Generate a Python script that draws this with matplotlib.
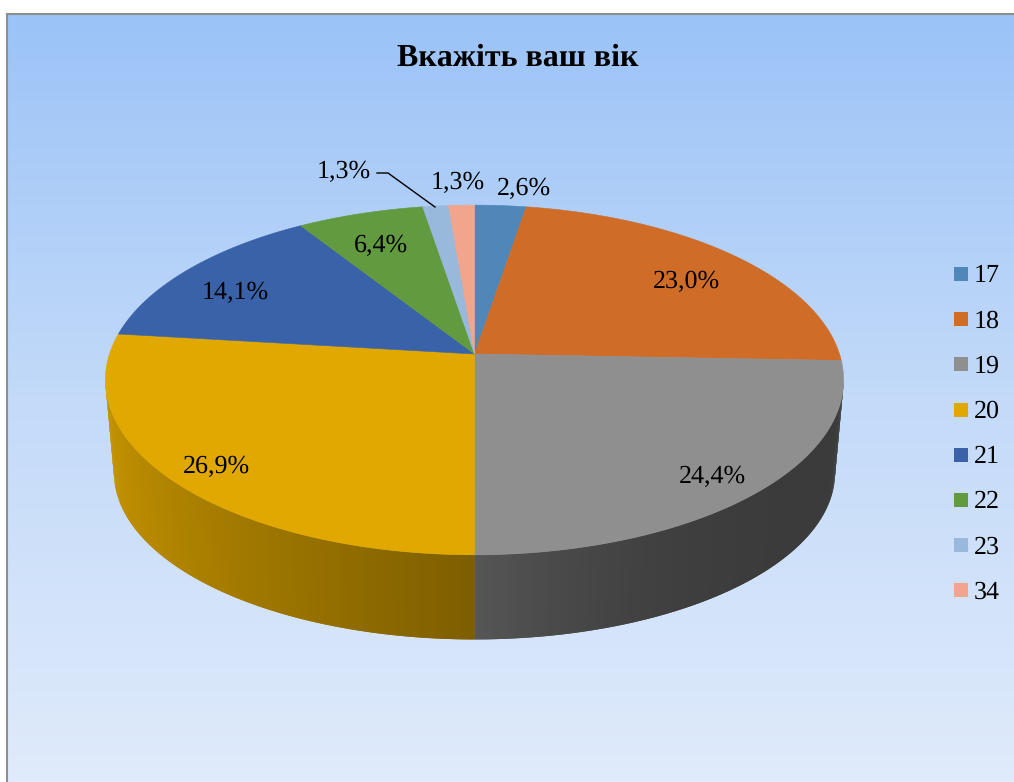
"""3D pie, age of respondents."""
import numpy as np
import matplotlib
matplotlib.use("Agg")
import matplotlib.pyplot as plt
from matplotlib.colors import to_rgb, LinearSegmentedColormap

plt.rcParams["font.family"] = ["Liberation Serif", "DejaVu Serif"]
plt.rcParams["text.hinting"] = "none"
plt.rcParams["text.hinting_factor"] = 1

TITLE = "Вкажіть ваш вік"
ages = ["17", "18", "19", "20", "21", "22", "23", "34"]
shares = [2.6, 23.0, 24.4, 26.9, 14.1, 6.4, 1.3, 1.3]
colors = ["#4e87b8", "#cf6c28", "#8f8f8f", "#e0a800", "#3a62a8", "#629a3f", "#98b8dc", "#f0a58c"]

# where the labels sit, in pixels
label_xy = [(524, 189), (686, 282), (712, 477), (216, 467), (235, 293), (381, 246), (344, 172), (458, 183)]

W, H = 1014, 782
CX, K = 474.5, 0.1485
TOP = dict(a=365, b=171, y0=354)      # rim of the top face
BOTTOM = dict(a=356.5, b=163, y0=448)   # rim of the bottom face


def rim(theta, a, b, y0):
    # perspective projection of the circle, theta clockwise from the back
    w = 1 + K * np.cos(theta)
    return CX + a * np.sin(theta) / w, y0 - b * np.cos(theta) / w


fig = plt.figure(figsize=(W / 100, H / 100), dpi=100, facecolor="white")
ax = fig.add_axes([0, 0, 1, 1])
ax.set_xlim(0, W)
ax.set_ylim(H, 0)
ax.axis("off")

# background gradient
bg = LinearSegmentedColormap.from_list("bg", ["#9bc3f7", "#c3daf9", "#e0ebfb"])
ax.imshow(np.linspace(0, 1, 256)[:, None], cmap=bg, extent=(6, W, H, 13), aspect="auto", zorder=0)
ax.set_xlim(0, W)
ax.set_ylim(H, 0)
ax.plot([6.5, 6.5, W], [H, 13.5, 13.5], color="#8e8e8e", lw=1.5, zorder=1, solid_joinstyle="miter")

edges = np.cumsum([0] + shares) / sum(shares) * 2 * np.pi

# side wall, only the part that faces the viewer
limit = np.arccos(-K)
# slice index: shade at the outer side, shade at the front, curve power
wall_shade = {2: (0.41, 0.60, 4), 3: (0.88, 0.56, 1.3)}
for i, (side, front, power) in wall_shade.items():
    lo = max(edges[i], limit)
    hi = min(edges[i + 1], 2 * np.pi - limit)
    steps = np.linspace(lo, hi, 121)
    if i == 3:
        steps = steps[::-1]     # paint from the side to the front in both walls
    base = np.array(to_rgb(colors[i]))
    for j, (t0, t1) in enumerate(zip(steps[:-1], steps[1:])):
        # each band runs under the next one, so no seams show
        t2 = steps[min(j + 2, len(steps) - 1)]
        tt = np.linspace(t0, t2, 3)
        xt, yt = rim(tt, **TOP)
        xb, yb = rim(tt, **BOTTOM)
        u = j / (len(steps) - 2)
        f = side + (front - side) * u ** power
        ax.fill(np.r_[xt, xb[::-1]], np.r_[yt, yb[::-1]], color=np.clip(base * f, 0, 1), lw=0, zorder=2 + j * 1e-4)

# top face
for i, c in enumerate(colors):
    tt = np.linspace(edges[i], edges[i + 1], 120)
    x, y = rim(tt, **TOP)
    ax.fill(np.r_[CX, x], np.r_[TOP["y0"], y], color=c, lw=0.4, zorder=3)

# data labels
for v, (lx, ly) in zip(shares, label_xy):
    ax.text(lx, ly, f"{v:.1f}%".replace(".", ","), fontsize=18.5, color="black",
            ha="center", va="center", zorder=5)

# leader line of the first 1,3%
ax.plot([377, 388, 435], [173, 173, 207], color="black", lw=1, zorder=4)

ax.text(517.5, 58, TITLE, fontsize=23, fontweight="bold", ha="center", va="center", zorder=5)

# legend
for i, (age, c) in enumerate(zip(ages, colors)):
    ly = 274 + i * 45.2
    ax.add_patch(plt.Rectangle((954, ly - 7), 14, 14, color=c, lw=0, zorder=5))
    ax.text(974, ly + 2, age, fontsize=18.5, ha="left", va="center", zorder=5)

fig.savefig("out.png", dpi=100, facecolor="white")
